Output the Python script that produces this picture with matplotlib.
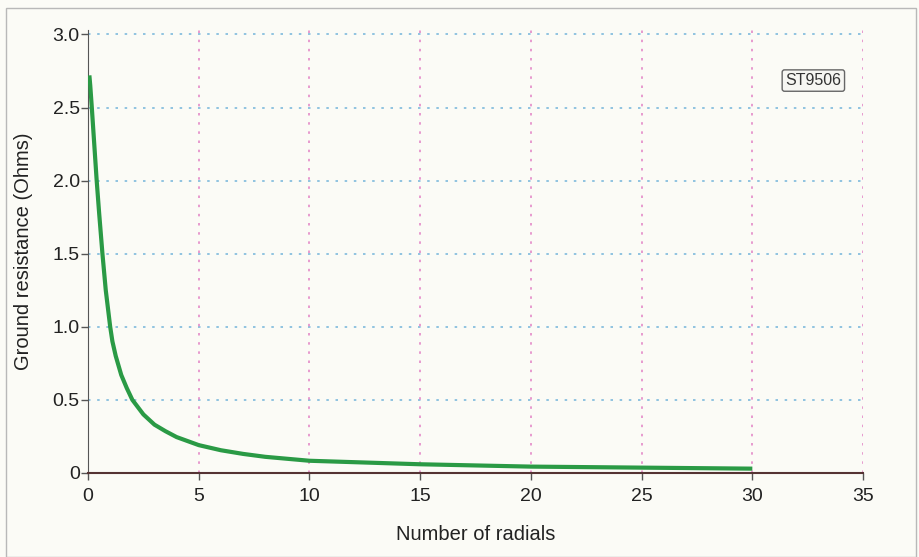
import matplotlib.pyplot as plt
from matplotlib.patches import Rectangle

# values
radials = [0.06, 0.1, 0.17, 0.28, 0.39, 0.5, 0.65, 0.8, 1.0, 1.1, 1.25, 1.5, 1.75, 2.0, 2.25, 2.5,
           3.0, 3.5, 4.0, 5.0, 6.0, 7.0, 8.0, 10.0, 15.0, 20.0, 25.0, 30.0]
resistance = [2.72, 2.65, 2.50, 2.25, 2.00, 1.78, 1.50, 1.25, 1.00, 0.90, 0.80, 0.67, 0.58, 0.50, 0.45, 0.40,
              0.33, 0.285, 0.245, 0.19, 0.155, 0.13, 0.11, 0.083, 0.059, 0.043, 0.036, 0.029]

xticks = [0, 5, 10, 15, 20, 25, 30, 35]
yticks = [0, 0.5, 1.0, 1.5, 2.0, 2.5, 3.0]
ylabels = ['0', '0.5', '1.0', '1.5', '2.0', '2.5', '3.0']

plt.rcParams['font.family'] = ['Liberation Sans', 'DejaVu Sans']

bg = '#fbfbf6'
fig = plt.figure(figsize=(9.2, 5.57), dpi=100, facecolor=bg)
ax = fig.add_axes([0.0957, 0.151, 0.8424, 0.795])
ax.set_facecolor(bg)

# frame around the panel
fig.patches.append(Rectangle((0.006, 0.0), 0.99, 0.985, transform=fig.transFigure,
                             fill=False, edgecolor='#b8b8b8', linewidth=1.0))

# grid
for y in yticks[1:]:
    ax.axhline(y, color='#7db9dc', linestyle=(0, (1.5, 4)), linewidth=1.2, zorder=1)
for x in xticks[1:]:
    ax.axvline(x, color='#e48ac8', linestyle=(0, (1.5, 4)), linewidth=1.2, zorder=1)

ax.plot(radials, resistance, color='#2a9a45', linewidth=3, solid_capstyle='butt',
        solid_joinstyle='round', zorder=3)

ax.set_xlim(0, 35)
ax.set_ylim(0, 3.03)
ax.set_xticks(xticks)
ax.set_yticks(yticks)
ax.set_yticklabels(ylabels)
ax.tick_params(direction='out', length=5, width=1, colors='#555555', labelcolor='#222222',
               labelsize=14, pad=1)
ax.tick_params(axis='x', pad=6)

for s in ['top', 'right']:
    ax.spines[s].set_visible(False)
ax.spines['left'].set_color('#555555')
ax.spines['bottom'].set_color('#553333')
ax.spines['bottom'].set_linewidth(1.5)

ax.set_xlabel('Number of radials', fontsize=14.5, color='#222222', labelpad=14)
ax.set_ylabel('Ground resistance (Ohms)', fontsize=14.5, color='#222222', labelpad=14)

ax.text(0.972, 0.886, 'ST9506', transform=ax.transAxes, ha='right', va='center',
        fontsize=11.5, color='#333333',
        bbox=dict(boxstyle='round,pad=0.2,rounding_size=0.15', facecolor='#f6f6f2',
                  edgecolor='#666666', linewidth=1))

fig.savefig('out.png', dpi=100, facecolor=bg)
